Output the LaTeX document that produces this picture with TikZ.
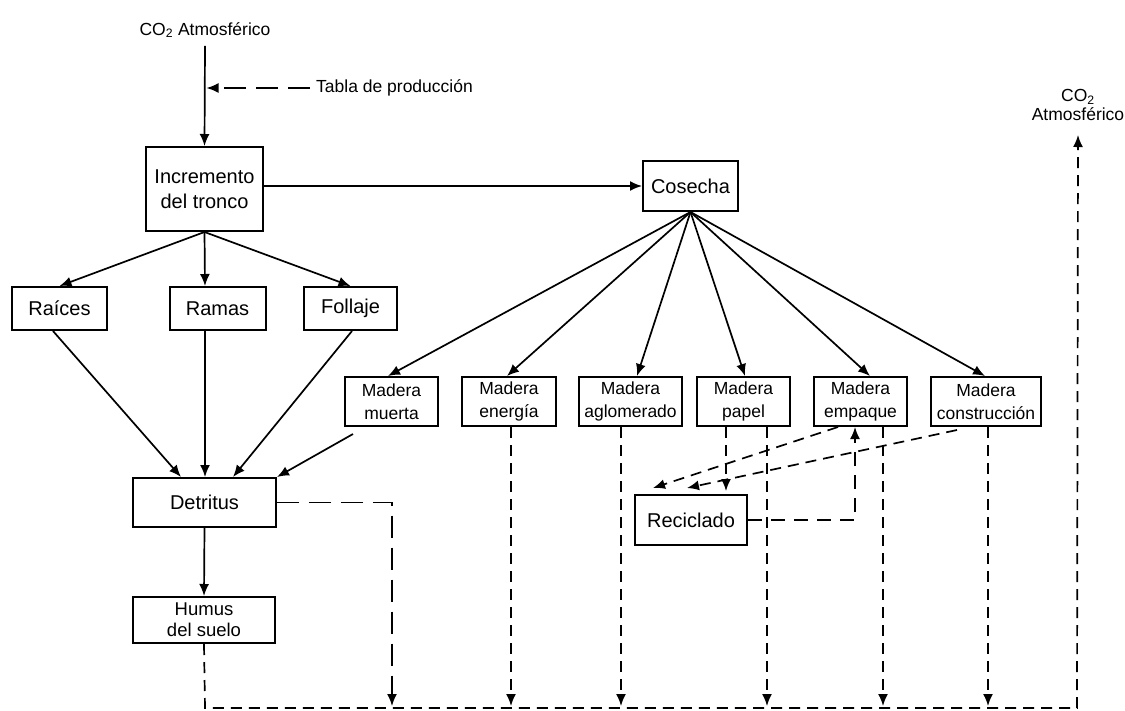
\documentclass[tikz,border=0pt]{standalone}
\usepackage{fontspec}
\setmainfont{Liberation Sans}
\usetikzlibrary{arrows.meta,calc}
\begin{document}
\begin{tikzpicture}[x=1pt,y=-1pt,
  box/.style={draw,line width=2pt,inner sep=0pt,align=center,font={\fontsize{20}{25}\selectfont}},
  mbox/.style={draw,line width=2pt,inner sep=0pt,align=center,minimum height=49pt,font={\fontsize{17.5}{23}\selectfont}},
  lbl/.style={inner sep=0pt,align=center,font={\fontsize{17.5}{19}\selectfont}},
  arr/.style={-{Latex[length=12pt,width=10pt]},line width=1.7pt},
  ldash/.style={dash pattern=on 22pt off 10pt},
  sdash/.style={dash pattern=on 11pt off 7pt},
  mdash/.style={dash pattern=on 14pt off 9pt}
]
\useasboundingbox (0,0) rectangle (1125,710);

% nodes
\node[lbl] (co2a) at (205,30) {CO\textsubscript{2} Atmosférico};
\node[lbl,anchor=west] (tab) at (316,88) {Tabla de producción};
\node[box,minimum width=117pt,minimum height=84pt] (inc) at (204.5,189) {Incremento\\del tronco};
\node[box,minimum width=95pt,minimum height=50pt] (cos) at (690.5,186) {Cosecha};
\node[box,minimum width=95pt,minimum height=43pt] (rai) at (59.5,308.5) {Raíces};
\node[box,minimum width=96pt,minimum height=43pt] (ram) at (217.5,308.5) {Ramas};
\node[box,minimum width=93pt,minimum height=43pt] (fol) at (350.5,308.5) {Follaje};
\node[box,minimum width=143pt,minimum height=49pt] (det) at (204.5,502.5) {Detritus};
\node[box,minimum width=142pt,minimum height=46pt,font={\fontsize{18.5}{21}\selectfont}] (hum) at (204,620) {Humus\\del suelo};
\node[mbox,minimum width=93pt] (mue) at (391.5,401.5) {Madera\\muerta};
\node[mbox,minimum width=94pt] (ene) at (509,401.5) {Madera\\energía};
\node[mbox,minimum width=103pt] (agl) at (630.5,401.5) {Madera\\aglomerado};
\node[mbox,minimum width=93pt] (pap) at (743.5,401.5) {Madera\\papel};
\node[mbox,minimum width=93pt] (emp) at (860.5,401.5) {Madera\\empaque};
\node[mbox,minimum width=110pt] (con) at (986,401.5) {Madera\\construcción};
\node[box,minimum width=112pt,minimum height=50pt] (rec) at (691,520) {Reciclado};
\node[lbl,anchor=south] (co2b) at (1078,121) {CO\textsubscript{2}\\Atmosférico};

\coordinate (bl) at (205,708);
\coordinate (br) at (1077,708);
\coordinate (bt) at (0,706);

% solid arrows
\draw[arr] ($(co2a.south)+(0,8)$) -- (inc.north);
\draw[arr,ldash] ($(tab.west)+(-6,0)$) -- ($(inc.north |- tab.west)+(2,0)$);
\draw[arr] (inc.east |- cos.west) -- (cos.west);
\draw[arr] (inc.south) -- (rai.north);
\draw[arr] (inc.south) -- (205,0 |- ram.north);
\draw[arr] (inc.south) -- (fol.north);
\draw[arr] (53,0 |- rai.south) -- (181,0 |- det.north);
\draw[arr] (205,0 |- ram.south) -- (205,0 |- det.north);
\draw[arr] (352,0 |- fol.south) -- (233,0 |- det.north);
\draw[arr] ($(353,0 |- mue.south)+(0,7)$) -- (det.north east);
\draw[arr] (det.south) -- (hum.north);
\foreach \n/\x in {mue/388, ene/507, agl/637, pap/745, emp/870, con/985}
  \draw[arr] (cos.south) -- (\x,0 |- \n.north);

% dashed flows to the bottom line
\foreach \n/\x in {ene/511, agl/621, pap/767, emp/883, con/988}
  \draw[arr,sdash] (\x,0 |- \n.south) -- (\x,0 |- bt);
\draw[arr,ldash] (det.east) -| (392,0 |- bt);
\draw[arr,sdash] (hum.south) -- (bl) -- (br) -- ($(co2b.south)+(0,14)$);

% recycling
\draw[arr,sdash] (726,0 |- pap.south) -- ($(726,0 |- rec.north)+(0,-3)$);
\draw[arr,sdash] (838,0 |- emp.south) -- ($(653,0 |- rec.north)+(0,-6)$);
\draw[arr,sdash] ($(957,0 |- con.south)+(0,3)$) -- ($(687,0 |- rec.north)+(0,-6)$);
\draw[arr,mdash] (rec.east) -- (855,0 |- rec.east) -- (855,0 |- emp.south);
\end{tikzpicture}
\end{document}
